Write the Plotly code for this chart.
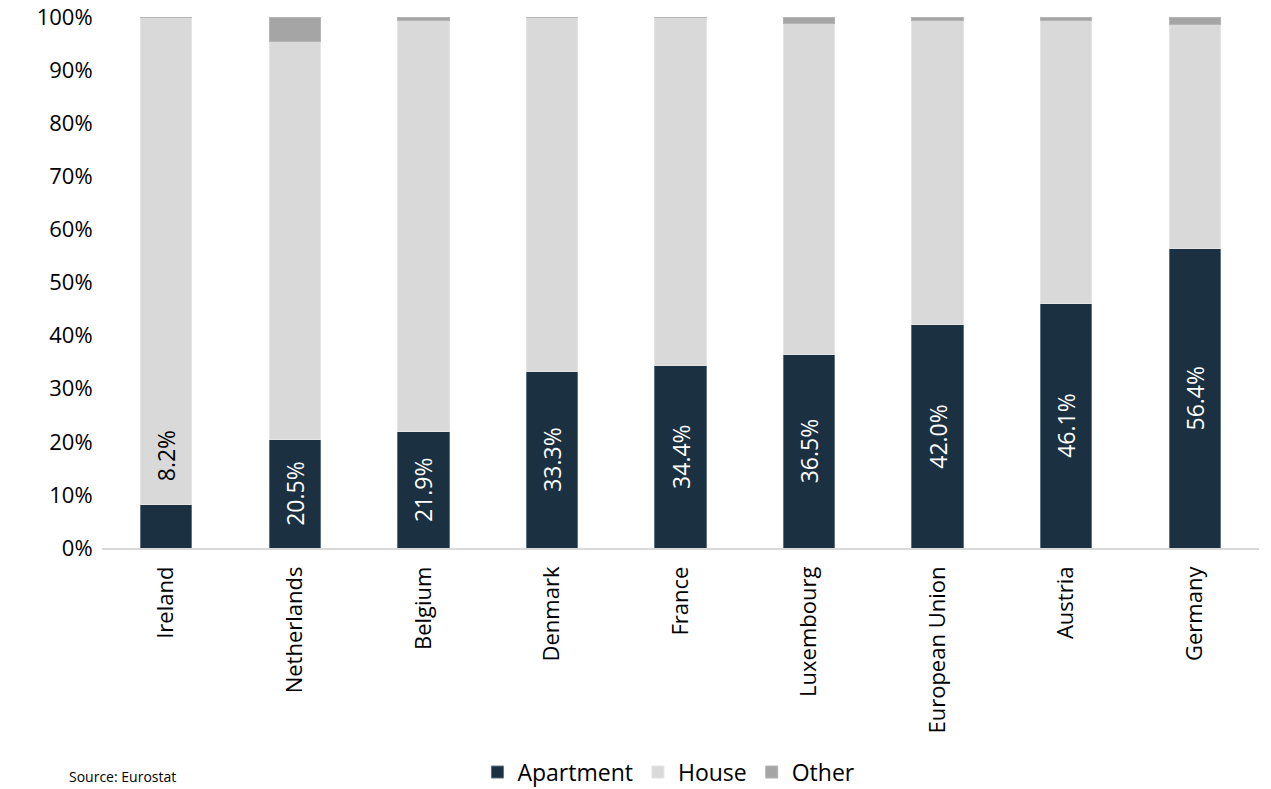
import plotly.graph_objects as go

categories = ["Ireland", "Netherlands", "Belgium", "Denmark", "France",
              "Luxembourg", "European Union", "Austria", "Germany"]
apartment = [8.2, 20.5, 21.9, 33.3, 34.4, 36.5, 42.0, 46.1, 56.4]
other = [0.1, 4.7, 0.6, 0.1, 0.1, 1.2, 0.6, 0.6, 1.4]
house = [round(100 - a - o, 1) for a, o in zip(apartment, other)]
y_ticks = [0, 10, 20, 30, 40, 50, 60, 70, 80, 90, 100]
y_tick_labels = [f"{v}%" for v in y_ticks]

FONT = "Open Sans"
C_APT = "#1B3142"
C_HOUSE = "#D9D9D9"
C_OTHER = "#A5A5A5"

apt_text = ["" if c == "Ireland" else f"{v:.1f}%" for c, v in zip(categories, apartment)]

fig = go.Figure()
fig.add_trace(go.Bar(
    name="Apartment", x=categories, y=apartment, marker_color=C_APT,
    marker_line=dict(color="#5F7282", width=1),
    text=apt_text, textposition="inside", insidetextanchor="middle",
    textangle=-90, textfont=dict(color="white", size=23, family=FONT),
    hoverinfo="skip",
))
fig.add_trace(go.Bar(
    name="House", x=categories, y=house, marker_color=C_HOUSE,
    marker_line=dict(color="#E4E4E4", width=1), hoverinfo="skip",
))
fig.add_trace(go.Bar(
    name="Other", x=categories, y=other, marker_color=C_OTHER,
    marker_line=dict(color="#B5B5B5", width=1), hoverinfo="skip",
))

# Ireland label sits above its small bar
fig.add_annotation(
    x=categories[0], y=apartment[0], text=f"{apartment[0]:.1f}%",
    textangle=-90, yanchor="bottom", yshift=21, showarrow=False,
    font=dict(color="#000000", size=23, family=FONT),
)

fig.add_annotation(
    xref="paper", yref="paper", x=-0.03, y=-0.452, xanchor="left", yanchor="bottom",
    text="Source: Eurostat", showarrow=False,
    font=dict(color="#000000", size=14, family=FONT),
)

fig.update_layout(
    barmode="stack", bargap=0.6,
    width=1271, height=789,
    margin=dict(l=102, r=12, t=17, b=241, autoexpand=False),
    paper_bgcolor="white", plot_bgcolor="white",
    font=dict(family=FONT, color="#000000", size=22),
    showlegend=True,
    legend=dict(orientation="h", x=0.49, xanchor="center", y=-0.422, yanchor="middle",
                font=dict(size=23, family=FONT), traceorder="normal",
                itemwidth=30, tracegroupgap=0),
    uniformtext=dict(mode=False),
)
fig.update_xaxes(
    automargin=False,
    tickangle=-90, showgrid=False, showline=True, linecolor="#D9D9D9", linewidth=1.5,
    ticks="outside", tickcolor="rgba(0,0,0,0)", ticklen=8,
    tickfont=dict(size=22, family=FONT, color="#000000"),
)
fig.update_yaxes(
    automargin=False,
    range=[0, 100], tickvals=y_ticks, ticktext=y_tick_labels, showgrid=False,
    showline=False, zeroline=False, ticks="outside", tickcolor="rgba(0,0,0,0)", ticklen=4,
    tickfont=dict(size=22, family=FONT, color="#000000"),
)

fig.write_html("out.html")
